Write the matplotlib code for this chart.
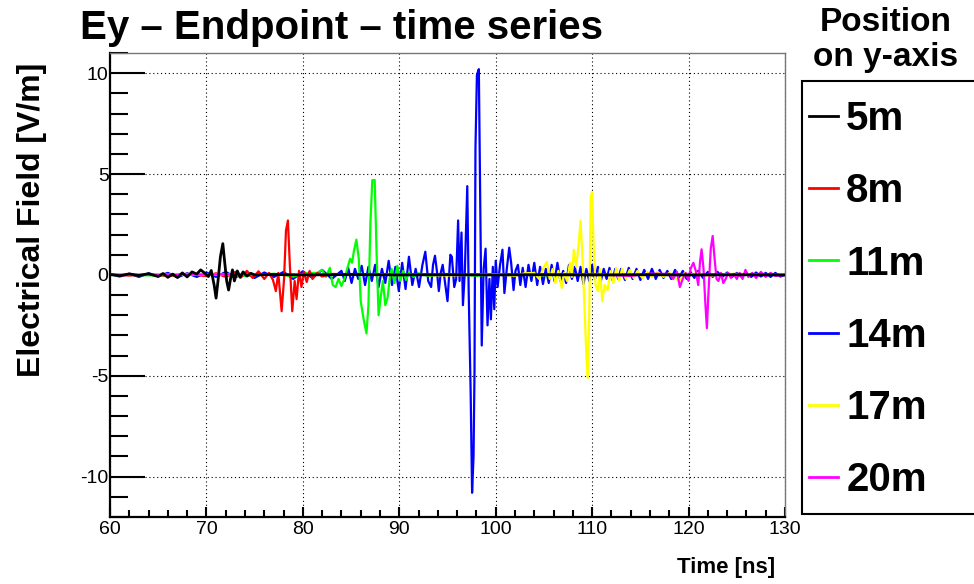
import matplotlib
matplotlib.use("Agg")
import matplotlib.pyplot as plt
from matplotlib.patches import Rectangle
from matplotlib.ticker import MultipleLocator

plt.rcParams['font.family'] = ['Liberation Sans', 'DejaVu Sans']
plt.rcParams['axes.unicode_minus'] = False

# --- data (time in ns, field in V/m) ---
t5 = [60, 61, 62, 63, 64, 65, 65.5, 66, 66.5, 67,
      67.5, 68, 68.5, 69, 69.4, 69.8, 70.2, 70.5, 70.8, 71.0,
      71.2, 71.45, 71.7, 71.9, 72.1, 72.3, 72.5, 72.7, 72.9, 73.2,
      73.5, 73.8, 74.2, 74.6, 75, 77, 80, 85, 90, 95,
      100, 105, 110, 115, 120, 125, 130]
e5 = [0.02, -0.04, 0.05, -0.03, 0.06, -0.08, 0.07, -0.12, 0.04, -0.13,
      0.1, -0.1, 0.15, 0.04, 0.25, 0.1, -0.08, 0.22, -0.5, -1.15,
      -0.3, 0.9, 1.55, 0.6, -0.3, -0.75, -0.2, 0.25, -0.3, 0.2,
      -0.12, 0.15, -0.06, 0.08, 0.0, 0.02, 0.0, 0.02, 0.0, 0.01,
      0.0, 0.01, 0.0, 0.01, 0.0, 0.01, 0.0]

t8 = [60, 62, 64, 66, 68, 70, 71, 72, 73, 73.6,
      74.2, 74.8, 75.4, 76.0, 76.5, 76.9, 77.2, 77.45, 77.8, 78.05,
      78.25, 78.45, 78.65, 78.9, 79.15, 79.35, 79.6, 79.85, 80.1, 80.4,
      80.7, 81.0, 81.5, 82, 83, 85, 90, 95, 100, 110,
      120, 130]
e8 = [0.03, -0.03, 0.04, -0.05, 0.05, -0.06, 0.08, -0.1, 0.15, -0.12,
      0.2, -0.15, 0.18, -0.2, 0.1, -0.25, -0.8, 0.1, -1.8, -0.2,
      2.2, 2.7, 0.5, -1.8, -0.3, -1.2, 0.2, -0.6, 0.15, -0.35,
      0.2, -0.2, 0.1, -0.08, 0.05, 0.02, 0.03, 0.0, 0.02, 0.0,
      0.01, 0.0]

t11 = [60, 65, 70, 74, 77, 79, 80.5, 81.5, 82.0, 82.4,
       82.8, 83.1, 83.4, 83.7, 84.0, 84.3, 84.6, 84.9, 85.1, 85.3,
       85.55, 85.8, 86.0, 86.3, 86.6, 86.8, 87.0, 87.2, 87.45, 87.65,
       87.85, 88.05, 88.3, 88.55, 88.8, 89.0, 89.2, 89.5, 89.8, 90.1,
       90.4, 90.7, 91.0, 91.5, 92, 93, 95, 98, 100, 105,
       110, 115, 120, 125, 130]
e11 = [0.02, -0.03, 0.03, -0.05, 0.06, -0.08, 0.1, 0.1, 0.25, -0.1,
       0.35, -0.5, -0.6, -0.2, -0.55, -0.2, 0.3, 0.8, 0.6, 1.2,
       1.75, 0.8, -1.3, -2.2, -2.9, -1.5, 2.5, 4.7, 4.7, 1.0,
       -2.0, -1.2, -0.3, -1.5, -1.1, -0.2, 0.3, -0.4, 0.45, -0.3,
       0.2, -0.25, 0.1, -0.1, 0.08, -0.05, 0.05, -0.04, 0.03, -0.02,
       0.02, 0.0, 0.02, 0.0, 0.0]

t14 = [60, 61, 62, 63, 64, 65, 66, 67, 68, 69,
       70, 71, 72, 73, 74, 75, 76, 77, 78, 79,
       80, 81, 82, 83, 84.0, 84.35, 84.7, 85.05, 85.4, 85.75,
       86.1, 86.45, 86.8, 87.15, 87.5, 87.85, 88.2, 88.55, 88.9, 89.25,
       89.6, 89.95, 90.3, 90.65, 91.0, 91.35, 91.7, 92.05, 92.4, 92.7,
       93.0, 93.3, 93.5, 93.7, 93.9, 94.1, 94.3, 94.5, 94.75, 95.0,
       95.3, 95.45, 95.7, 95.9, 96.1, 96.25, 96.45, 96.6, 96.8, 97.05,
       97.2, 97.4, 97.55, 97.7, 97.8, 97.9, 98.05, 98.25, 98.4, 98.55,
       98.75, 98.95, 99.15, 99.35, 99.5, 99.7, 99.85, 100.0, 100.2, 100.45,
       100.7, 100.9, 101.15, 101.4, 101.6, 101.85, 102.05, 102.3, 102.55, 102.8,
       103.1, 103.4, 103.7, 104.0, 104.3, 104.6, 104.9, 105.2, 105.5, 105.8,
       106.1, 106.4, 106.7, 107.0, 107.3, 107.6, 107.9, 108.2, 108.5, 108.8,
       109.1, 109.4, 109.7, 110.0, 110.3, 110.6, 110.9, 111.2, 111.5, 111.8,
       112.1, 112.4, 112.7, 113.0, 113.4, 113.8, 114.2, 114.6, 115.0, 115.4,
       115.8, 116.2, 116.6, 117.0, 117.4, 117.8, 118.2, 118.6, 119.0, 119.4,
       119.8, 120.2, 120.6, 121.0, 121.5, 122.0, 122.5, 123.0, 123.5, 124.0,
       124.5, 125.0, 125.5, 126.0, 126.5, 127.0, 127.5, 128.0, 128.5, 129.0,
       129.5, 130]
e14 = [0.05, -0.08, 0.06, -0.1, 0.08, -0.06, 0.1, -0.12, 0.08, -0.1,
       0.12, -0.1, 0.15, -0.12, 0.1, -0.15, 0.12, -0.1, 0.15, -0.2,
       0.18, -0.15, 0.25, -0.2, 0.2, -0.3, 0.35, -0.4, 0.3, -0.2,
       0.45, -0.5, 0.4, -0.3, 0.5, -0.6, 0.3, -0.4, 0.7, -0.5,
       0.4, -0.8, 0.6, -0.7, 0.9, -0.5, 0.3, -0.6, 0.5, 1.15,
       -0.3, -0.6, 0.5, 0.95, 0.2, -0.8, 0.1, 0.5, -0.4, -1.3,
       1.0, 0.9, -0.6, -0.2, 2.7, -0.3, 2.1, -1.5, 0.2, 4.4,
       -0.9, -5.8, -10.8, -9.0, -4.8, 6.3, 9.9, 10.2, 3.5, -3.5,
       0.3, 1.3, -2.5, -0.2, -2.2, 0.4, -1.7, 0.7, -0.6, 0.5,
       1.25, -0.9, 0.3, 1.35, 0.6, -0.75, 0.2, 0.5, -0.5, 0.35,
       -0.6, 0.5, -0.3, 0.6, -0.5, 0.4, -0.45, 0.3, -0.4, 0.5,
       -0.3, 0.6, -0.3, 0.2, -0.4, 0.5, -0.2, 0.4, -0.3, 0.4,
       -0.45, 0.3, -0.3, 0.5, -0.2, 0.4, -0.3, 0.3, -0.2, 0.35,
       -0.25, 0.3, -0.2, 0.3, -0.25, 0.35, -0.2, 0.3, -0.25, 0.25,
       -0.2, 0.3, -0.2, 0.25, -0.15, 0.2, -0.2, 0.25, -0.15, 0.2,
       -0.2, 0.15, -0.15, 0.2, -0.15, 0.15, -0.1, 0.15, -0.1, 0.12,
       -0.1, 0.1, -0.1, 0.1, -0.1, 0.12, -0.08, 0.1, -0.1, 0.1,
       -0.08, 0.0]

t17 = [60, 70, 80, 90, 95, 100, 102, 103, 104.0, 104.5,
       104.9, 105.3, 105.6, 105.9, 106.2, 106.5, 106.85, 107.1, 107.4, 107.7,
       107.9, 108.1, 108.35, 108.6, 108.8, 109.0, 109.2, 109.4, 109.55, 109.7,
       109.85, 110.0, 110.15, 110.35, 110.6, 110.8, 111.05, 111.3, 111.6, 111.9,
       112.2, 112.5, 112.8, 113.1, 113.5, 113.9, 114.3, 114.7, 115.2, 115.7,
       116.2, 116.8, 117.4, 118, 119, 119.6, 120, 121, 122, 124,
       126, 128, 130]
e17 = [0.0, 0.02, 0.0, 0.03, -0.03, 0.04, -0.05, 0.08, 0.1, -0.2,
       0.3, 0.65, -0.2, 0.3, -0.4, 0.2, -0.65, 0.1, -0.3, 0.6,
       -0.1, 1.25, 0.4, 1.5, 2.7, 0.8, -1.5, -4.0, -5.1, -2.0,
       3.9, 4.1, 1.5, -0.5, -0.8, 0.3, -1.3, -0.5, -0.75, 0.2,
       -0.4, 0.35, -0.3, 0.3, -0.2, 0.25, -0.15, 0.2, -0.15, 0.15,
       -0.1, 0.15, -0.1, 0.1, -0.3, 0.1, 0.0, 0.1, -0.05, 0.05,
       0.05, 0.0, 0.0]

t20 = [60, 70, 80, 90, 100, 110, 114, 116, 118.0, 118.4,
       118.8, 119.1, 119.4, 119.7, 120.0, 120.2, 120.5, 120.75, 121.0, 121.2,
       121.35, 121.55, 121.75, 121.9, 122.05, 122.3, 122.5, 122.7, 122.9, 123.1,
       123.35, 123.6, 123.85, 124.1, 124.4, 124.7, 125.0, 125.3, 125.6, 125.9,
       126.2, 126.6, 127.0, 127.5, 128, 128.5, 129, 130]
e20 = [0.0, 0.02, 0.0, 0.02, 0.0, 0.03, -0.05, 0.06, 0.05, -0.2,
       0.15, -0.6, -0.2, 0.1, -0.3, 0.3, 0.6, 0.2, -0.5, 0.7,
       1.27, 0.3, -1.5, -2.64, -1.0, 1.3, 1.93, 0.8, -0.2, -0.3,
       0.1, -0.4, -0.2, 0.1, -0.15, 0.05, -0.2, 0.1, -0.2, 0.25,
       -0.1, 0.1, -0.15, 0.15, -0.1, 0.1, -0.05, 0.0]

labels = ["5m", "8m", "11m", "14m", "17m", "20m"]
colors = ["black", "#ff0000", "#00ff00", "#0000ff", "#ffff00", "#ff00ff"]
series = [(t5, e5), (t8, e8), (t11, e11), (t14, e14), (t17, e17), (t20, e20)]

fig = plt.figure(figsize=(9.74, 5.84), dpi=100)
ax = fig.add_axes([110 / 974, 1 - 517 / 584, 675 / 974, 464 / 584])

# draw order: blue, green, red, yellow, magenta, black on top
order = [3, 2, 1, 4, 5, 0]
handles = [None] * 6
for k, i in enumerate(order):
    t, e = series[i]
    lw = 2.0 if i == 0 else 1.6
    ln, = ax.plot(t, e, color=colors[i], lw=lw, zorder=3 + k, label=labels[i])
    handles[i] = ln

ax.set_xlim(60, 130)
ax.set_ylim(-12, 11)
ax.xaxis.set_major_locator(MultipleLocator(10))
ax.xaxis.set_minor_locator(MultipleLocator(2))
ax.yaxis.set_major_locator(MultipleLocator(5))
ax.yaxis.set_minor_locator(MultipleLocator(1))
ax.grid(True, which='major', color='black', lw=0.8, linestyle=(0, (1, 2.5)))
ax.tick_params(axis='y', which='major', direction='in', length=25, width=1.5, labelsize=14, pad=1)
ax.tick_params(axis='y', which='minor', direction='in', length=13, width=1.5)
ax.tick_params(axis='x', which='major', direction='in', length=7, width=1.5, labelsize=14, pad=3)
ax.tick_params(axis='x', which='minor', direction='in', length=5, width=1.5)
for s in ['left', 'bottom']:
    ax.spines[s].set_linewidth(1.6)
for s in ['top', 'right']:
    ax.spines[s].set_linewidth(1.0)
    ax.spines[s].set_color('#777777')

fig.text(80 / 974, 1 - 28 / 584, "Ey – Endpoint – time series", fontsize=29,
         fontweight='bold', ha='left', va='center')
fig.text(32 / 974, 1 - 220 / 584, "Electrical Field [V/m]", fontsize=23,
         fontweight='bold', rotation=90, ha='center', va='center')
fig.text(775 / 974, 1 - 568 / 584, "Time [ns]", fontsize=16,
         fontweight='bold', ha='right', va='center')

# legend box and title
fig.patches.append(Rectangle((802 / 974, 1 - 514 / 584), 180 / 974, 433 / 584,
                             transform=fig.transFigure, facecolor='white',
                             edgecolor='black', lw=1.5, zorder=5))
fig.text(886 / 974, 1 - 40 / 584, "Position\non y-axis", fontsize=24,
         fontweight='bold', ha='center', va='center', linespacing=1.15)
leg = fig.legend(handles, labels, loc='upper left',
                 bbox_to_anchor=(797 / 974, 1 - 88 / 584),
                 frameon=False, prop={'weight': 'bold', 'size': 29},
                 handlelength=0.72, handletextpad=0.2, labelspacing=0.85,
                 borderpad=0.3, borderaxespad=0)
leg.set_zorder(6)
for h in leg.legend_handles:
    h.set_linewidth(2)

fig.savefig("out.png", dpi=100)
